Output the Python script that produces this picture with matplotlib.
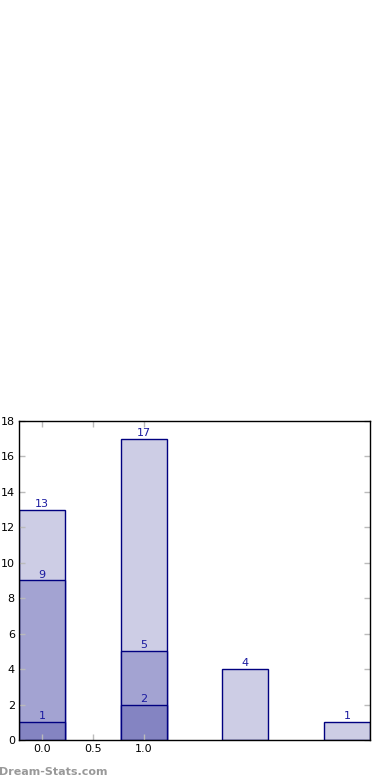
import matplotlib
matplotlib.use("Agg")
import matplotlib.pyplot as plt

positions = [0, 1, 2, 3]
# three overlapping layers, back to front
light_vals = [13, 17, 4, 1]
mid_vals = [9, 5]
dark_vals = [1, 2]
xtick_vals = [0.0, 0.5, 1.0]
ytick_vals = [0, 2, 4, 6, 8, 10, 12, 14, 16, 18]

edge = "#000080"
text_c = "#1a1aa0"

fig = plt.figure(figsize=(3.9, 7.8), dpi=100)
ax = fig.add_axes([0.0487, 0.0513, 0.9, 0.409])

w = 0.45
layers = [(light_vals, "#cdcde5"), (mid_vals, "#a3a3d2"), (dark_vals, "#8484c2")]
for vals, col in layers:
    xs = positions[:len(vals)]
    ax.bar(xs, vals, width=w, color=col, edgecolor=edge, linewidth=1.0)
    for x, v in zip(xs, vals):
        ax.text(x, v + 0.05, str(v), ha="center", va="bottom", fontsize=8, color=text_c)

ax.set_xlim(-0.225, 3.225)
ax.set_ylim(0, 18)
ax.set_xticks(xtick_vals)
ax.set_xticklabels(["0.0", "0.5", "1.0"])
ax.set_yticks(ytick_vals)
ax.tick_params(direction="in", color="#bbbbbb", length=4, width=1,
               labelsize=8, top=True, right=True, pad=3)
for s in ax.spines.values():
    s.set_color("black")
    s.set_linewidth(1)

# watermark
fig.text(-0.003, 0.004, "Dream-Stats.com", fontsize=8, fontweight="bold",
         color="#999999", ha="left", va="bottom")

fig.savefig("out.png", dpi=100)
